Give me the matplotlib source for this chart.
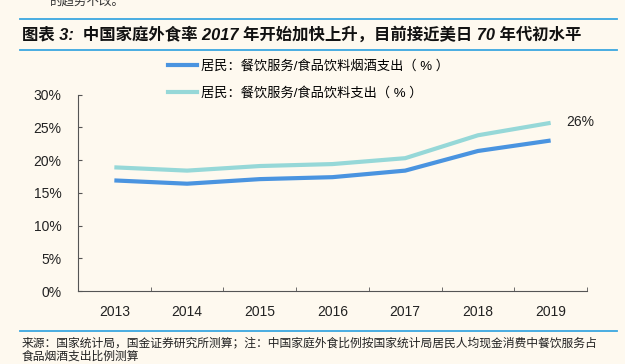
import matplotlib
matplotlib.use("Agg")
import matplotlib.pyplot as plt
from matplotlib.lines import Line2D

plt.rcParams['font.family'] = ['Liberation Sans', 'Noto Sans CJK SC', 'DejaVu Sans']

years = ['2013', '2014', '2015', '2016', '2017', '2018', '2019']
dining_food_tobacco = [16.9, 16.4, 17.1, 17.4, 18.4, 21.4, 23.0]
dining_food = [18.9, 18.4, 19.1, 19.4, 20.3, 23.8, 25.7]
label_dark = '居民：餐饮服务/食品饮料烟酒支出（ % ）'
label_light = '居民：餐饮服务/食品饮料支出（ % ）'
yticks = [0, 5, 10, 15, 20, 25, 30]

bg = '#fef9ef'
dark = '#4a94e0'
light = '#96d8d8'
rule = '#3aa6e0'

fig = plt.figure(figsize=(6.25, 3.64), dpi=100, facecolor=bg)
ax = fig.add_axes([0.1248, 0.2005, 0.8144, 0.5393], facecolor=bg)

x = list(range(len(years)))
ax.plot(x, dining_food_tobacco, color=dark, lw=3, solid_capstyle='butt')
ax.plot(x, dining_food, color=light, lw=3, solid_capstyle='butt')
ax.text(x[-1] + 0.22, dining_food[-1] + 0.1, '%d%%' % round(dining_food[-1]),
        fontsize=10, color='#222222', va='center', ha='left')

ax.set_xlim(-0.5, len(years) - 0.5)
ax.set_ylim(0, 30)
ax.set_yticks(yticks)
ax.set_yticklabels(['%d%%' % v for v in yticks])
ax.set_xticks(x)
ax.set_xticklabels(years)
ax.set_xticks([i + 0.5 for i in x], minor=True)
ax.tick_params(axis='x', which='major', length=0, pad=10, labelsize=10, labelcolor='#222222')
ax.tick_params(axis='x', which='minor', direction='in', length=3, color='#555555')
ax.tick_params(axis='y', direction='in', length=3, pad=12, labelsize=10,
               labelcolor='#222222', color='#555555')
for s in ['top', 'right']:
    ax.spines[s].set_visible(False)
for s in ['left', 'bottom']:
    ax.spines[s].set_color('#555555')
    ax.spines[s].set_linewidth(0.8)

handles = [Line2D([0], [0], color=dark, lw=3), Line2D([0], [0], color=light, lw=3)]
fig.legend(handles, [label_dark, label_light], loc='upper left',
           bbox_to_anchor=(0.25, 0.868), frameon=False, fontsize=9.5,
           handlelength=2.2, handletextpad=0.3, labelspacing=1.05)

# header
fig.add_artist(Line2D([0.032, 0.987], [0.947, 0.947], color=rule, lw=1.3))
fig.add_artist(Line2D([0.032, 0.987], [0.862, 0.862], color=rule, lw=1.3))
fig.text(0.035, 0.905, '图表 3:  中国家庭外食率 2017 年开始加快上升，目前接近美日 70 年代初水平',
         fontsize=11.8, fontweight='bold', style='italic', color='#111111', va='center')
fig.text(0.08, 0.995, '的趋势不改。', fontsize=9, color='#333333', va='center')

# footer
fig.add_artist(Line2D([0.032, 0.987], [0.09, 0.09], color=rule, lw=1.3))
fig.text(0.035, 0.057, '来源：国家统计局，国金证券研究所测算；注：中国家庭外食比例按国家统计局居民人均现金消费中餐饮服务占',
         fontsize=8.5, color='#222222', va='center')
fig.text(0.035, 0.02, '食品烟酒支出比例测算', fontsize=8.5, color='#222222', va='center')

fig.savefig('out.png', dpi=100, facecolor=bg)
